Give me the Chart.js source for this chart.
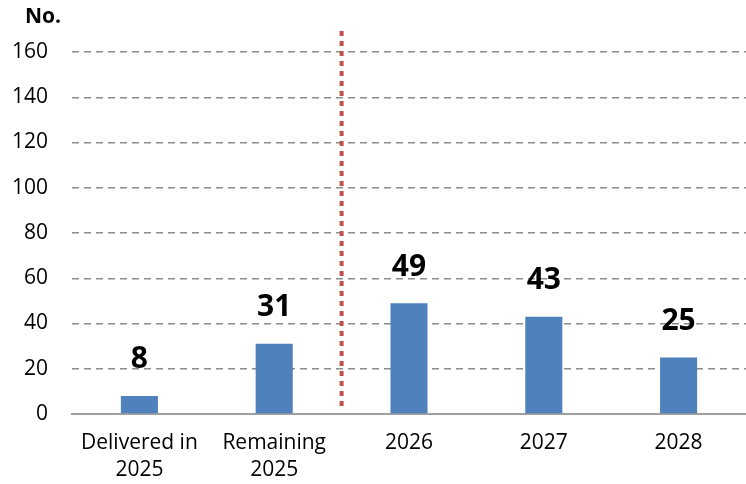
<!DOCTYPE html>
<html>
<head>
<meta charset="utf-8">
<script src="https://cdn.jsdelivr.net/npm/chart.js@4/dist/chart.umd.min.js"></script>
<style>
  html, body { margin: 0; padding: 0; background: #fff; }
  #wrap { width: 746px; height: 484px; }
</style>
</head>
<body>
<div id="wrap"><canvas id="chart"></canvas></div>
<script>
const categories = [['Delivered in', '2025'], ['Remaining', '2025'], '2026', '2027', '2028'];
const deliveries = [8, 31, 49, 43, 25];
const yTicks = [0, 20, 40, 60, 80, 100, 120, 140, 160];
const unitLabel = 'No.';

const FONT = "'Open Sans', 'Noto Sans', sans-serif";

// value labels above the bars, the "No." unit and the red divider
const extras = {
    id: 'extras',
    afterDatasetsDraw(chart) {
        const ctx = chart.ctx;
        const meta = chart.getDatasetMeta(0);
        ctx.save();
        ctx.fillStyle = '#000';
        ctx.font = 'bold 30px ' + FONT;
        ctx.textAlign = 'center';
        ctx.textBaseline = 'middle';
        meta.data.forEach((bar, i) => {
            ctx.fillText(deliveries[i], bar.x, bar.y - 36);
        });

        // divider between 2025 and the forecast years
        const x = chart.scales.x;
        const divX = (x.getPixelForValue(1) + x.getPixelForValue(2)) / 2;
        ctx.strokeStyle = '#C0504D';
        ctx.lineWidth = 4;
        ctx.setLineDash([5, 5]);
        ctx.beginPath();
        ctx.moveTo(divX, chart.chartArea.top - 21);
        ctx.lineTo(divX, chart.chartArea.bottom - 3);
        ctx.stroke();

        ctx.setLineDash([]);
        ctx.font = 'bold 21px ' + FONT;
        ctx.textAlign = 'left';
        ctx.fillText(unitLabel, 25, 17);
        ctx.restore();
    }
};

new Chart(document.getElementById('chart'), {
    type: 'bar',
    data: {
        labels: categories,
        datasets: [{
            data: deliveries,
            backgroundColor: '#4F81BD',
            categoryPercentage: 1,
            barPercentage: 0.275
        }]
    },
    options: {
        responsive: true,
        maintainAspectRatio: false,
        animation: false,
        layout: { padding: { top: 52, right: 0, bottom: 4, left: 0 } },
        plugins: {
            legend: { display: false },
            tooltip: { enabled: false }
        },
        scales: {
            x: {
                afterFit: (scale) => {
                    scale.paddingLeft = 0;
                    scale.paddingRight = 0;
                    scale.height = 66;
                },
                grid: { display: false, drawTicks: false },
                border: { display: true, color: '#a0a0a0', width: 2 },
                ticks: { color: '#000', font: { family: FONT, size: 21, lineHeight: 1.3 }, padding: 15, maxRotation: 0 }
            },
            y: {
                min: 0,
                max: 160,
                afterBuildTicks: (scale) => { scale.ticks = yTicks.map(v => ({ value: v })); },
                afterFit: (scale) => { scale.width = 72; },
                grid: {
                    drawTicks: false,
                    color: (c) => c.tick && c.tick.value === 0 ? 'rgba(0,0,0,0)' : '#8c8c8c',
                    lineWidth: 1.5
                },
                border: { display: false, dash: [7, 5] },
                ticks: { color: '#000', font: { family: FONT, size: 21 }, padding: 24 }
            }
        }
    },
    plugins: [extras]
});
</script>
</body>
</html>
